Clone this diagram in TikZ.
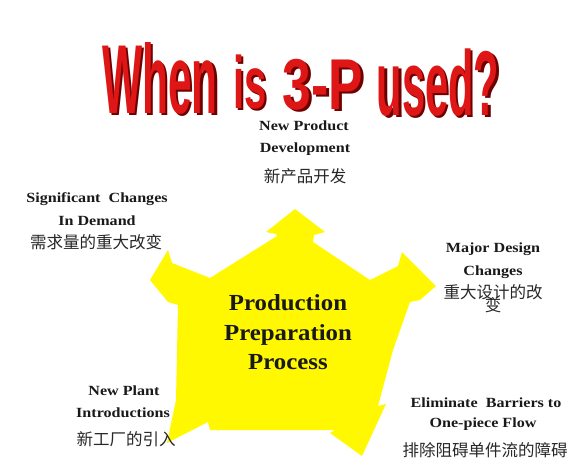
\documentclass[tikz,border=0pt]{standalone}
\usepackage{fontspec}
\setmainfont{Liberation Serif}
\newfontfamily\lblfont{Liberation Serif}[FakeStretch=1.15]
\newfontfamily\midfont{Liberation Serif}[FakeStretch=1.08]
\newfontfamily\cjk{Noto Sans CJK SC}
\newfontfamily\ttlfont{Liberation Sans}
\definecolor{pyellow}{RGB}{255,248,0}
\definecolor{tred}{RGB}{222,22,22}
\definecolor{tshadow}{RGB}{110,0,0}
\definecolor{cjkgray}{RGB}{40,40,40}
\newcommand{\shadowword}[3]{%
  \makebox[0pt][l]{\hspace{2.5pt}\raisebox{-2pt}{\textcolor{tshadow}{\scalebox{#1}[#2]{#3}}}}%
  \textcolor{tred}{\scalebox{#1}[#2]{#3}}}
\begin{document}
\begin{tikzpicture}[x=1pt,y=-1pt,
  lbl/.style={anchor=base,inner sep=0pt,font=\lblfont\bfseries\fontsize{14}{16}\selectfont,text=black!90},
  cn/.style={anchor=base,inner sep=0pt,font=\cjk\fontsize{16.5}{18}\selectfont,text=cjkgray},
  mid/.style={anchor=base,inner sep=0pt,font=\midfont\bfseries\fontsize{23}{26}\selectfont,text=black!90},
  ttl/.style={anchor=base,inner sep=0pt,font=\ttlfont\bfseries\fontsize{40}{40}\selectfont}]
\useasboundingbox[fill=white] (0,0) rectangle (585,475);

% yellow pentagon with five arrows
\fill[pyellow] (295,209) -- (325,232) -- (314,235) -- (313,242) -- (370,280)
  -- (398,266) -- (402,252) -- (436,286) -- (420,300) -- (410,302)
  -- (393,350) -- (378,406) -- (386,404) -- (362,456) -- (330,433)
  -- (335,430) -- (210,430) -- (208,422) -- (167,443) -- (176,400)
  -- (178,305) -- (168,302) -- (150,280) -- (168,250) -- (172,263)
  -- (210,278) -- (277,236) -- (276,234) -- (266,232) -- cycle;

% title
\node[ttl] (t1) at (160,113) {\shadowword{1.06}{2.45}{When}};
\node[ttl] (t2) at (250,108) {\shadowword{1.0}{1.85}{is}};
\node[ttl] (t3) at (323,109) {\shadowword{1.29}{1.8}{3-P}};
\node[ttl] (t4) at (438,115) {\shadowword{1.04}{2.3}{used?}};

% top label
\node[lbl] (np1) at (304,130) {New Product};
\node[lbl] (np2) at (305,152) {Development};
\node[cn] (np3) at (305,182) {新产品开发};
% left label
\node[lbl] (sc1) at (97,202) {Significant~~Changes};
\node[lbl] (sc2) at (97,225) {In Demand};
\node[cn] (sc3) at (96,248) {需求量的重大改变};
% right label
\node[lbl] (md1) at (493,252) {Major Design};
\node[lbl] (md2) at (493,275) {Changes};
\node[cn] (md3) at (493,298) {重大设计的改};
\node[cn] (md4) at (493,311) {变};
% bottom-left label
\node[lbl] (pl1) at (124,395) {New Plant};
\node[lbl] (pl2) at (123,417) {Introductions};
\node[cn] (pl3) at (126,445) {新工厂的引入};
% bottom-right label
\node[lbl] (eb1) at (486,407) {Eliminate~~Barriers to};
\node[lbl] (eb2) at (483,427) {One-piece Flow};
\node[cn] (eb3) at (485,456) {排除阻碍单件流的障碍};
% centre
\node[mid] (c1) at (288,310) {Production};
\node[mid] (c2) at (288,340) {Preparation};
\node[mid] (c3) at (288,369) {Process};
\end{tikzpicture}
\end{document}
